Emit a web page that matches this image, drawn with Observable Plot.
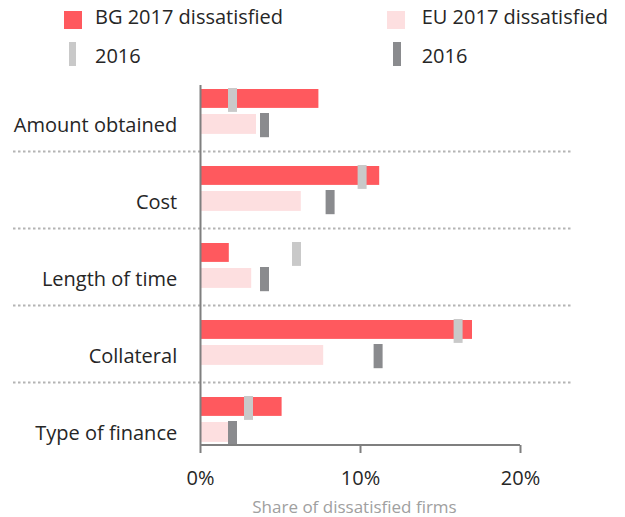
<!DOCTYPE html>
<html>
<head>
<meta charset="utf-8">
<script src="https://cdn.jsdelivr.net/npm/d3@7"></script>
<script src="https://cdn.jsdelivr.net/npm/@observablehq/plot@0.6"></script>
<style>
  html, body { margin: 0; padding: 0; background: #fff; }
  body { width: 625px; height: 517px; overflow: hidden; font-family: "Open Sans", sans-serif; }
  #legend { position: relative; width: 625px; height: 72px; color: #262626; font-size: 20px; }
  #legend .sw { position: absolute; }
  #legend .lb { position: absolute; line-height: 20px; white-space: nowrap; }
  #chart svg { display: block; }
</style>
</head>
<body>
<div id="legend"></div>
<div id="chart"></div>
<script>
const categories = ["Amount obtained", "Cost", "Length of time", "Collateral", "Type of finance"];
const bg2017 = [7.4, 11.2, 1.8, 17.0, 5.1];
const eu2017 = [3.5, 6.3, 3.2, 7.7, 1.8];
const bg2016 = [2.0, 10.1, 6.0, 16.1, 3.0];
const eu2016 = [4.0, 8.1, 4.0, 11.1, 2.0];
const xTicks = [0, 10, 20];
const legendLabels = ["BG 2017 dissatisfied", "EU 2017 dissatisfied", "2016", "2016"];
const axisTitle = "Share of dissatisfied firms";

const colors = {bg17: "#ff595e", eu17: "#fddfe0", bg16: "#c9c9c9", eu16: "#8a8b8e"};

// Legend (HTML above the SVG)
const legend = document.getElementById("legend");
const legendItems = [
  {label: legendLabels[0], color: colors.bg17, sx: 64, sy: 11, sw: 18, sh: 18, tx: 95, ty: 6.5},
  {label: legendLabels[1], color: colors.eu17, sx: 386.7, sy: 11, sw: 18, sh: 18, tx: 421.7, ty: 6.5},
  {label: legendLabels[2], color: colors.bg16, sx: 68.7, sy: 42.3, sw: 7, sh: 24, tx: 95, ty: 45.5},
  {label: legendLabels[3], color: colors.eu16, sx: 392.7, sy: 42.3, sw: 8, sh: 24, tx: 421.7, ty: 45.5}
];
for (const it of legendItems) {
  const s = document.createElement("div");
  s.className = "sw";
  Object.assign(s.style, {left: it.sx + "px", top: it.sy + "px", width: it.sw + "px", height: it.sh + "px", background: it.color});
  legend.appendChild(s);
  const t = document.createElement("div");
  t.className = "lb";
  t.textContent = it.label;
  Object.assign(t.style, {left: it.tx + "px", top: it.ty + "px"});
  legend.appendChild(t);
}

const rows = (vals) => categories.map((c, i) => ({category: c, value: vals[i]}));

const step = 77.1;
const y0 = 2;
const bw = step;

const chart = Plot.plot({
  width: 625,
  height: 445,
  marginLeft: 13,
  marginRight: 53,
  marginTop: 13,
  marginBottom: 72,
  style: {fontFamily: "'Open Sans', sans-serif", background: "#fff", color: "#262626"},
  x: {domain: [0, 20], range: [200, 520]},
  y: {type: "band", domain: categories, range: [y0, y0 + 5 * step], padding: 0, axis: null},
  marks: [
    Plot.ruleY(categories.slice(0, -1), {y: d => d, dy: bw / 2, stroke: "#b4b4b4", strokeWidth: 2, strokeDasharray: "2.5,2.5"}),
    Plot.barX(rows(bg2017), {x: "value", y: "category", fill: colors.bg17, insetTop: 15, insetBottom: step - 34}),
    Plot.barX(rows(eu2017), {x: "value", y: "category", fill: colors.eu17, insetTop: 40, insetBottom: step - 60}),
    Plot.tickX(rows(bg2016), {x: "value", y: "category", stroke: colors.bg16, strokeWidth: 9, insetTop: 14, insetBottom: step - 38}),
    Plot.tickX(rows(eu2016), {x: "value", y: "category", stroke: colors.eu16, strokeWidth: 9, insetTop: 39, insetBottom: step - 63.3}),
    Plot.ruleX([0], {stroke: "#7f7f7f", strokeWidth: 2}),
    Plot.ruleY([categories[categories.length - 1]], {y: d => d, x1: xTicks[0], x2: xTicks[xTicks.length - 1], dy: 373 - (y0 + 4.5 * step), stroke: "#7f7f7f", strokeWidth: 2}),
    Plot.axisX({ticks: xTicks, tickFormat: d => d + "%", tickSize: 8, tickPadding: 17, fontSize: 20, stroke: "#7f7f7f", strokeWidth: 2, fill: "#262626", label: null}),
    Plot.text(categories, {x: () => 0, y: d => d, text: d => d, textAnchor: "end", lineAnchor: "bottom", dx: -23.3, dy: 57.5 - bw / 2, fontSize: 20, fill: "#262626"}),
    Plot.text([axisTitle], {x: () => (xTicks[0] + xTicks[xTicks.length - 1]) / 2, frameAnchor: "bottom", lineAnchor: "bottom", text: d => d, dx: -6, dy: 67, fontSize: 17, fill: "#a0a0a0"})
  ]
});
document.getElementById("chart").appendChild(chart);
</script>
</body>
</html>
